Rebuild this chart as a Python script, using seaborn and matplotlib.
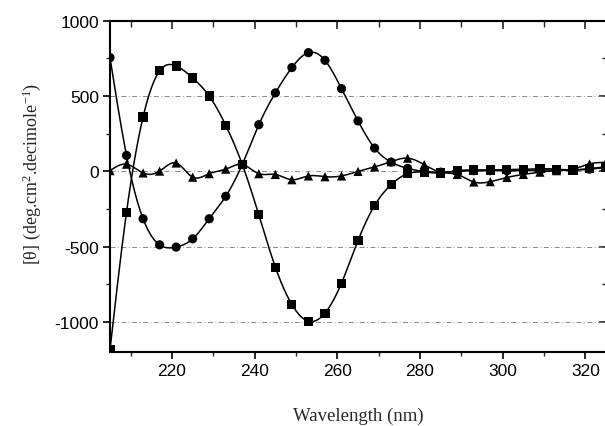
import numpy as np
import pandas as pd
import matplotlib
matplotlib.use("Agg")
import matplotlib.pyplot as plt
from matplotlib.ticker import MultipleLocator
import seaborn as sns

# Wavelengths sampled every 4 nm
wavelength = [205, 209, 213, 217, 221, 225, 229, 233, 237, 241, 245, 249, 253,
              257, 261, 265, 269, 273, 277, 281, 285, 289, 293, 297, 301, 305,
              309, 313, 317, 321, 325]

# Molar ellipticity of the three samples
theta_circle = [755, 106, -314, -487, -502, -447, -314, -165, 46, 310, 521, 689, 788,
                737, 549, 335, 155, 62, 20, 0, -5, 0, 5, 5, 5, 5,
                8, 10, 8, 15, 25]
theta_square = [-1184, -270, 361, 667, 700, 620, 500, 306, 46, -288, -635, -883, -994,
                -940, -741, -458, -226, -88, -15, -5, -10, 5, 10, 10, 12, 15,
                18, 15, 10, 20, 30]
theta_triangle = [5, 48, -10, 2, 56, -38, -15, 15, 46, -15, -20, -55, -30,
                  -35, -30, 0, 30, 65, 88, 45, -5, -20, -70, -68, -40, -20,
                  -5, 5, 15, 50, 60]

series = {"circle": theta_circle, "square": theta_square, "triangle": theta_triangle}
marker_map = {"circle": "o", "square": "s", "triangle": "^"}


def natural_spline(x, y, xs):
    """Natural cubic spline through (x, y), evaluated at xs."""
    x = np.asarray(x, float)
    y = np.asarray(y, float)
    n = len(x)
    h = np.diff(x)
    A = np.zeros((n, n))
    b = np.zeros(n)
    A[0, 0] = 1.0
    A[-1, -1] = 1.0
    for i in range(1, n - 1):
        A[i, i - 1] = h[i - 1]
        A[i, i] = 2 * (h[i - 1] + h[i])
        A[i, i + 1] = h[i]
        b[i] = 3 * ((y[i + 1] - y[i]) / h[i] - (y[i] - y[i - 1]) / h[i - 1])
    c = np.linalg.solve(A, b)
    idx = np.clip(np.searchsorted(x, xs) - 1, 0, n - 2)
    dx = xs - x[idx]
    hi = h[idx]
    bcoef = (y[idx + 1] - y[idx]) / hi - hi * (2 * c[idx] + c[idx + 1]) / 3
    dcoef = (c[idx + 1] - c[idx]) / (3 * hi)
    return y[idx] + bcoef * dx + c[idx] * dx ** 2 + dcoef * dx ** 3


points = pd.DataFrame({
    "wavelength": np.tile(wavelength, len(series)),
    "theta": np.concatenate([series[k] for k in series]),
    "sample": np.repeat(list(series.keys()), len(wavelength)),
})

xs = np.linspace(min(wavelength), max(wavelength), 600)
curves = pd.DataFrame({
    "wavelength": np.tile(xs, len(series)),
    "theta": np.concatenate([natural_spline(wavelength, series[k], xs) for k in series]),
    "sample": np.repeat(list(series.keys()), len(xs)),
})

sns.set_style("ticks")
plt.rcParams["font.family"] = ["Liberation Sans", "DejaVu Sans"]
plt.rcParams["axes.unicode_minus"] = False
plt.rcParams["mathtext.fontset"] = "custom"
plt.rcParams["mathtext.rm"] = "Liberation Serif"
plt.rcParams["mathtext.it"] = "Liberation Serif:italic"

fig = plt.figure(figsize=(6.05, 4.27), dpi=100)
ax = fig.add_axes([0.1818, 0.1726, 0.8200, 0.7766])

sns.lineplot(data=curves, x="wavelength", y="theta", units="sample", estimator=None,
             sort=False, color="black", linewidth=1.1, ax=ax, legend=False)
sns.scatterplot(data=points, x="wavelength", y="theta", style="sample",
                markers=marker_map, color="black", s=44, edgecolor="black",
                linewidth=0, ax=ax, legend=False, zorder=3)

ax.set_xlim(205, 325)
ax.set_ylim(-1200, 1000)
ax.xaxis.set_major_locator(MultipleLocator(20))
ax.xaxis.set_minor_locator(MultipleLocator(10))
ax.yaxis.set_major_locator(MultipleLocator(500))
ax.yaxis.set_minor_locator(MultipleLocator(250))

ax.grid(axis="y", which="major", linestyle=(0, (6, 3, 1, 3)), color="#777777", linewidth=0.6)
ax.grid(axis="x", visible=False)

for sp in ax.spines.values():
    sp.set_linewidth(1.5)
    sp.set_color("black")

ax.tick_params(axis="both", which="major", direction="out", length=5, width=1.2,
               labelsize=12.5, pad=3, colors="black", top=False, right=False)
ax.tick_params(axis="both", which="minor", direction="out", length=3, width=1.0,
               top=False, right=False)

top = ax.secondary_xaxis("top")
top.xaxis.set_major_locator(MultipleLocator(20))
top.xaxis.set_minor_locator(MultipleLocator(10))
top.tick_params(which="major", direction="in", length=6, width=1.2, labeltop=False)
top.tick_params(which="minor", direction="in", length=4, width=1.0)
top.spines["top"].set_linewidth(1.5)

right = ax.secondary_yaxis("right")
right.yaxis.set_major_locator(MultipleLocator(500))
right.yaxis.set_minor_locator(MultipleLocator(250))
right.tick_params(which="major", direction="in", length=5, width=1.2, labelright=False)
right.tick_params(which="minor", direction="in", length=3, width=1.0)

ax.set_xlabel("Wavelength (nm)", fontsize=13.5, family=["Liberation Serif", "DejaVu Serif"])
ax.set_ylabel(r"[θ] (deg.cm$^{\mathrm{2}}$.decimole$^{\mathrm{-1}}$)", fontsize=13,
              family=["Liberation Serif", "DejaVu Serif"])
ax.xaxis.set_label_coords(0.5, -0.163)
ax.yaxis.set_label_coords(-0.135, 0.54)

fig.savefig("out.png", dpi=100)
